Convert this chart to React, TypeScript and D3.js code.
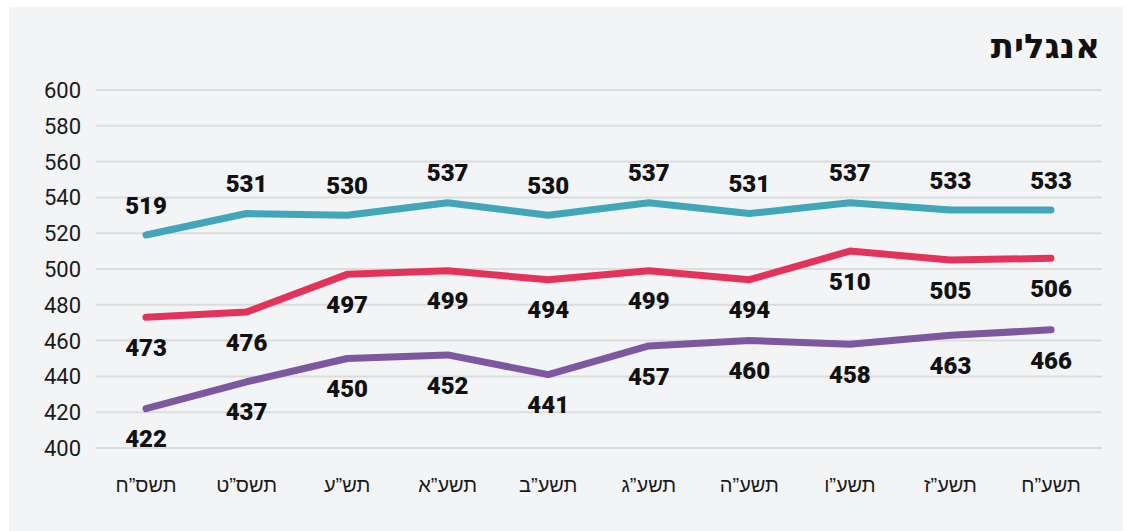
import React from 'react';
import * as d3 from 'd3';

const years = ['תשס”ח', 'תשס”ט', 'תש”ע', 'תשע”א', 'תשע”ב', 'תשע”ג', 'תשע”ה', 'תשע”ו', 'תשע”ז', 'תשע”ח'];
const teal = [519, 531, 530, 537, 530, 537, 531, 537, 533, 533];
const red = [473, 476, 497, 499, 494, 499, 494, 510, 505, 506];
const purple = [422, 437, 450, 452, 441, 457, 460, 458, 463, 466];
const yTicks = [400, 420, 440, 460, 480, 500, 520, 540, 560, 580, 600];

const series = [
  { key: 'teal', values: teal, color: '#40a6b8', dy: -30 },
  { key: 'red', values: red, color: '#e4335a', dy: 30 },
  { key: 'purple', values: purple, color: '#7d589f', dy: 30 },
];

const W = 1125;
const H = 531;

export default function App() {
  const x = d3.scalePoint<string>().domain(years).range([146, 1051]);
  const y = d3.scaleLinear().domain([400, 600]).range([448, 90]);
  const line = d3.line<number>()
    .x((_, i) => x(years[i])!)
    .y(d => y(d));

  return (
    <svg width={W} height={H} style={{ position: 'absolute', left: 0, top: 0, fontFamily: 'Roboto, sans-serif' }}>
      <rect x={0} y={0} width={W} height={H} fill="#fff" />
      <rect x={9} y={7} width={1114} height={524} fill="#f3f4f6" />
      <text x={1100} y={58} textAnchor="end" fontSize={34} fontWeight="bold" fill="#111" fontFamily="'DejaVu Sans', sans-serif">אנגלית</text>
      {yTicks.map(t => (
        <g key={t}>
          <line x1={96} x2={1102} y1={y(t)} y2={y(t)} stroke="#dcdcdc" strokeWidth={2} />
          <text x={81} y={y(t)} dy="0.36em" textAnchor="end" fontSize={22} fill="#1a1a1a">{t}</text>
        </g>
      ))}
      {years.map(c => (
        <text key={c} x={x(c)} y={492} textAnchor="middle" fontSize={20} fill="#1a1a1a" fontFamily="'Liberation Sans', sans-serif">{c}</text>
      ))}
      {series.map(s => (
        <path key={s.key} d={line(s.values)!} fill="none" stroke={s.color} strokeWidth={7} strokeLinecap="round" strokeLinejoin="round" />
      ))}
      {series.map(s => (
        <g key={s.key + 'l'}>
          {s.values.map((v, i) => (
            <text key={i} x={x(years[i])} y={y(v) + s.dy} dy="0.36em" textAnchor="middle" fontSize={24} fontWeight={900} fill="#111">{v}</text>
          ))}
        </g>
      ))}
    </svg>
  );
}
